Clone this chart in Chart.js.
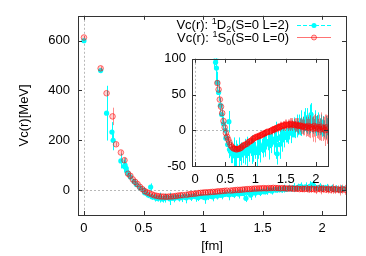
<!DOCTYPE html>
<html>
<head>
<meta charset="utf-8">
<script src="https://cdn.jsdelivr.net/npm/chart.js@4.4.0/dist/chart.umd.min.js"></script>
<style>
  html, body { margin: 0; padding: 0; background: #fff; }
  #wrap { position: relative; width: 366px; height: 256px; }
  #main { position: absolute; left: 0; top: 0; }
  #inset { position: absolute; left: 140px; top: 45px; }
</style>
</head>
<body>
<div id="wrap">
  <canvas id="main" width="366" height="256"></canvas>
  <canvas id="inset" width="200" height="150"></canvas>
</div>
<script>
// 1S0 channel (red, open circles)
const rS0 = [0, 0.14, 0.19, 0.24, 0.27, 0.31, 0.34,
  0.37, 0.39, 0.41, 0.43, 0.45, 0.47, 0.49, 0.51, 0.53, 0.55, 0.57, 0.59, 0.61, 0.63, 0.65, 0.67, 0.69, 0.71, 0.73, 0.75, 0.77, 0.79, 0.81, 0.83,
  0.86, 0.88, 0.90, 0.92, 0.94, 0.96, 0.98, 1.00, 1.02, 1.04, 1.06, 1.08, 1.10, 1.12, 1.14, 1.16, 1.18, 1.20,
  1.23, 1.25, 1.27, 1.29, 1.31, 1.33, 1.35, 1.37, 1.39, 1.41, 1.43, 1.45, 1.47, 1.49, 1.51, 1.53, 1.55, 1.57, 1.59, 1.61, 1.63, 1.65, 1.67, 1.69, 1.71,
  1.73, 1.75, 1.77, 1.79, 1.81, 1.83, 1.85, 1.87, 1.89, 1.91, 1.93, 1.95, 1.97, 1.99, 2.01, 2.03, 2.05, 2.07, 2.09, 2.11, 2.13, 2.15, 2.17, 2.19];
const vS0 = [613, 489, 389, 296, 184, 151, 120,
  66, 57, 43, 33, 24, 13, 4, -4, -9, -13, -17, -21, -23, -25, -26, -26, -27, -26, -26, -25, -24, -22, -21, -20,
  -19, -17, -16, -15, -14, -12, -11, -10, -9, -9, -8, -7, -7, -5, -5, -4, -3, -2,
  -2, -1, 0, 1, 1, 2, 3, 4, 4, 5, 6, 6, 7, 7, 8, 7, 8, 8, 9, 8, 8, 7, 8, 7, 6,
  7, 6, 5, 6, 4, 5, 4, 6, 3, 5, 4, 2, 6, 3, 5, 2, 4, 1, 5, 2, 3, 0, 4, 1];
const errS0 = [5, 8, 8, 35, 8, 8, 10,
  4, 4, 3, 3, 3, 3, 3, 3, 3, 3, 3, 3, 3, 3, 3, 3, 3, 3, 3, 3, 3, 3, 3, 3,
  3, 3, 3, 4, 3, 4, 3, 4, 4, 3, 4, 4, 4, 4, 5, 4, 5, 4,
  5, 5, 6, 5, 6, 5, 6, 6, 5, 7, 6, 7, 6, 8, 7, 8, 7, 9, 8, 9, 8, 10, 9, 10, 11,
  9, 12, 10, 13, 11, 14, 12, 15, 13, 16, 14, 18, 15, 20, 16, 14, 18, 15, 20, 17, 16, 22, 18, 20];

// 1D2 channel (cyan, filled dots)
const rD2 = [0, 0.14, 0.19, 0.235, 0.245, 0.31, 0.34, 0.345, 0.355, 0.37, 0.39, 0.42, 0.44, 0.47, 0.50, 0.51, 0.54, 0.56, 0.57,
  0.60, 0.62, 0.64, 0.66, 0.68, 0.70, 0.72, 0.74, 0.76, 0.78,
  0.80, 0.82, 0.84, 0.86, 0.88, 0.90, 0.92, 0.94, 0.96, 0.98,
  1.00, 1.02, 1.04, 1.06, 1.08, 1.10, 1.12, 1.14, 1.16, 1.18,
  1.20, 1.22, 1.24, 1.26, 1.28, 1.30, 1.32, 1.34, 1.36, 1.38,
  1.40, 1.42, 1.44, 1.46, 1.48, 1.50, 1.52, 1.54, 1.56, 1.58,
  1.60, 1.62, 1.64, 1.66, 1.68, 1.70, 1.72, 1.74, 1.76, 1.78,
  1.80, 1.82, 1.84, 1.86, 1.88, 1.90, 1.92, 1.94, 1.96, 1.98,
  2.00, 2.02, 2.04, 2.06, 2.08, 2.10, 2.12, 2.14, 2.16, 2.18];
const vD2 = [600, 480, 309, 233, 200, 117, 95, 100, 87, 67, 53, 35, 22, 9, 0, -11, -20, 12, -27,
  -31, -34, -30, -36, -32, -29, -35, -31, -33, -28,
  -32, -30, -27, -31, -26, -29, -24, -27, -30, -25,
  -28, -31, -26, -23, -27, -22, -24, -19, -21, -17,
  -16, -19, -15, -18, -13, -16, -12, -14, -33, -11,
  -20, -9, -12, -7, -10, -5, -7, -3, -1, -4,
  2, 0, 4, 1, 6, 3, 8, 5, 10, 7,
  12, 15, 9, 13, 8, 16, 22, 11, 7, 12,
  6, 9, 9, 5, 8, 3, 6, 2, 4, 5];
const errD2 = [5, 10, 110, 40, 40, 30, 25, 30, 20, 15, 12, 10, 10, 10, 10, 12, 12, 15, 12,
  15, 12, 20, 14, 18, 10, 25, 12, 16, 10,
  14, 18, 12, 22, 10, 15, 12, 20, 14, 10,
  12, 24, 14, 12, 18, 10, 14, 12, 16, 10,
  12, 22, 10, 14, 10, 18, 12, 26, 15, 10,
  20, 12, 18, 10, 14, 12, 10, 16, 12, 14,
  12, 10, 14, 12, 16, 10, 14, 12, 18, 12,
  14, 16, 12, 18, 14, 20, 16, 14, 12, 16,
  14, 12, 16, 12, 14, 12, 14, 12, 16, 12];

const labelD2 = 'Vc(r): ^1D_2(S=0 L=2)';
const labelS0 = 'Vc(r): ^1S_0(S=0 L=0)';

const xTicks = [0, 0.5, 1, 1.5, 2];
const mainYTicks = [0, 200, 400, 600];
const insetYTicks = [-50, 0, 50, 100];

Chart.defaults.font.family = "'Liberation Sans', Arial, sans-serif";
Chart.defaults.font.size = 13;
Chart.defaults.color = '#000';
Chart.defaults.animation = false;

const CYAN = 'rgb(0, 255, 255)';
const RED = 'rgba(255, 0, 0, 0.55)';
const RED_FILL = 'rgba(255, 0, 0, 0.18)';

function points(rs, vs) {
    return rs.map((r, i) => ({ x: r, y: vs[i] }));
}

function makeDatasets() {
    return [
        {
            label: labelS0,
            data: points(rS0, vS0),
            errors: errS0,
            errorColor: 'rgba(255, 0, 0, 0.45)',
            pointRadius: 2.8,
            pointBorderWidth: 1,
            pointBorderColor: RED,
            pointBackgroundColor: RED_FILL
        },
        {
            label: labelD2,
            data: points(rD2, vD2),
            errors: errD2,
            errorColor: CYAN,
            pointRadius: 2.6,
            pointBorderWidth: 0,
            pointBorderColor: CYAN,
            pointBackgroundColor: CYAN
        }
    ];
}

const errorBars = {
    id: 'errorBars',
    beforeDatasetDraw(chart, args) {
        const ds = chart.data.datasets[args.index];
        if (!ds.errors) return;
        const { ctx, chartArea: a, scales: { x, y } } = chart;
        ctx.save();
        ctx.beginPath();
        ctx.rect(a.left, a.top, a.right - a.left, a.bottom - a.top);
        ctx.clip();
        ctx.strokeStyle = ds.errorColor;
        ctx.lineWidth = 1;
        ctx.beginPath();
        ds.data.forEach((p, i) => {
            let px = Math.round(x.getPixelForValue(p.x)) + 0.5;
            ctx.moveTo(px, y.getPixelForValue(p.y - ds.errors[i]));
            ctx.lineTo(px, y.getPixelForValue(p.y + ds.errors[i]));
        });
        ctx.stroke();
        ctx.restore();
    }
};

// gnuplot style: dotted zero axes, box border, ticks pointing inward on all sides
const frame = {
    id: 'frame',
    beforeDatasetsDraw(chart) {
        const { ctx, chartArea: a, scales: { x, y } } = chart;
        let x0 = Math.round(x.getPixelForValue(0)) + 0.5;
        let y0 = Math.round(y.getPixelForValue(0)) + 0.5;
        ctx.save();
        ctx.strokeStyle = '#b8b8b8';
        ctx.lineWidth = 1;
        ctx.setLineDash([2, 2]);
        ctx.beginPath();
        ctx.moveTo(x0, a.top);
        ctx.lineTo(x0, a.bottom);
        ctx.moveTo(a.left, y0);
        ctx.lineTo(a.right, y0);
        ctx.stroke();
        ctx.restore();
    },
    afterDraw(chart) {
        const { ctx, chartArea: a, scales: { x, y } } = chart;
        let tl = 4;
        ctx.save();
        ctx.strokeStyle = '#333';
        ctx.lineWidth = 1;
        ctx.beginPath();
        x.ticks.forEach(t => {
            let px = Math.round(x.getPixelForValue(t.value)) + 0.5;
            ctx.moveTo(px, a.bottom);
            ctx.lineTo(px, a.bottom - tl);
            ctx.moveTo(px, a.top);
            ctx.lineTo(px, a.top + tl);
        });
        y.ticks.forEach(t => {
            let py = Math.round(y.getPixelForValue(t.value)) + 0.5;
            ctx.moveTo(a.left, py);
            ctx.lineTo(a.left + tl, py);
            ctx.moveTo(a.right, py);
            ctx.lineTo(a.right - tl, py);
        });
        ctx.stroke();
        ctx.strokeRect(Math.round(a.left) + 0.5, Math.round(a.top) + 0.5,
            Math.round(a.right - a.left), Math.round(a.bottom - a.top));
        ctx.restore();
    }
};

// split "^1D_2" style labels into normal / super / sub pieces
function richParts(label) {
    let parts = [];
    let buf = '';
    for (let i = 0; i < label.length; i++) {
        let c = label[i];
        if (c === '^' || c === '_') {
            if (buf) parts.push({ t: buf, s: 0 });
            buf = '';
            parts.push({ t: label[i + 1], s: c === '^' ? 1 : -1 });
            i++;
        } else {
            buf += c;
        }
    }
    if (buf) parts.push({ t: buf, s: 0 });
    return parts;
}

function drawRich(ctx, label, right, baseline) {
    let parts = richParts(label);
    let fam = Chart.defaults.font.family;
    let fontFor = s => s === 0 ? '13px ' + fam : '9px ' + fam;
    let total = 0;
    parts.forEach(p => {
        ctx.font = fontFor(p.s);
        p.w = ctx.measureText(p.t).width;
        total += p.w;
    });
    let xPos = right - total;
    ctx.fillStyle = '#000';
    ctx.textBaseline = 'alphabetic';
    ctx.textAlign = 'left';
    parts.forEach(p => {
        ctx.font = fontFor(p.s);
        let dy = p.s === 1 ? -5 : (p.s === -1 ? 3 : 0);
        ctx.fillText(p.t, xPos, baseline + dy);
        xPos += p.w;
    });
}

const keyLegend = {
    id: 'keyLegend',
    afterDraw(chart) {
        const ctx = chart.ctx;
        let rows = [
            { label: labelD2, base: 29, color: CYAN, dash: [4, 2], filled: true },
            { label: labelS0, base: 41.5, color: RED, dash: [], filled: false }
        ];
        ctx.save();
        rows.forEach(row => {
            drawRich(ctx, row.label, 289, row.base);
            let cy = Math.round(row.base - 4.5) + 0.5;
            ctx.strokeStyle = row.color;
            ctx.lineWidth = 1;
            ctx.setLineDash(row.dash);
            ctx.beginPath();
            ctx.moveTo(297, cy);
            ctx.lineTo(331, cy);
            ctx.stroke();
            ctx.setLineDash([]);
            ctx.beginPath();
            ctx.arc(314, cy, 2.5, 0, Math.PI * 2);
            if (row.filled) {
                ctx.fillStyle = CYAN;
                ctx.fill();
            } else {
                ctx.fillStyle = RED_FILL;
                ctx.fill();
                ctx.stroke();
            }
        });
        ctx.restore();
    }
};

function scaleOptions(yMin, yMax, yTicks, yWidth, xHeight, withTitles) {
    return {
        x: {
            type: 'linear',
            min: -0.05,
            max: 2.2,
            afterBuildTicks: s => { s.ticks = xTicks.map(v => ({ value: v })); },
            afterFit: s => { s.height = xHeight; },
            grid: { display: false, drawTicks: false },
            border: { display: false },
            ticks: { padding: 6, maxRotation: 0, autoSkip: false, callback: v => String(v) },
            title: {
                display: withTitles,
                text: '[fm]',
                padding: { top: 0, bottom: 2 }
            }
        },
        y: {
            type: 'linear',
            min: yMin,
            max: yMax,
            afterBuildTicks: s => { s.ticks = yTicks.map(v => ({ value: v })); },
            afterFit: s => { s.width = yWidth; },
            grid: { display: false, drawTicks: false },
            border: { display: false },
            ticks: { padding: withTitles ? 8 : 6, callback: v => String(v) },
            title: {
                display: withTitles,
                text: 'Vc(r)[MeV]',
                padding: { top: 17, bottom: 0 }
            }
        }
    };
}

new Chart(document.getElementById('main').getContext('2d'), {
    type: 'scatter',
    data: { datasets: makeDatasets() },
    options: {
        responsive: false,
        devicePixelRatio: 1,
        events: [],
        layout: { padding: { left: 0, top: 15, right: 20, bottom: 0 } },
        plugins: { legend: { display: false }, tooltip: { enabled: false } },
        scales: scaleOptions(-100, 700, mainYTicks, 78, 41, true)
    },
    plugins: [frame, errorBars, keyLegend]
});

new Chart(document.getElementById('inset').getContext('2d'), {
    type: 'scatter',
    data: { datasets: makeDatasets() },
    options: {
        responsive: false,
        devicePixelRatio: 1,
        events: [],
        layout: { padding: { left: 0, top: 8, right: 12, bottom: 0 } },
        plugins: { legend: { display: false }, tooltip: { enabled: false } },
        scales: scaleOptions(-50, 100, insetYTicks, 52, 29, false)
    },
    plugins: [frame, errorBars]
});
</script>
</body>
</html>
